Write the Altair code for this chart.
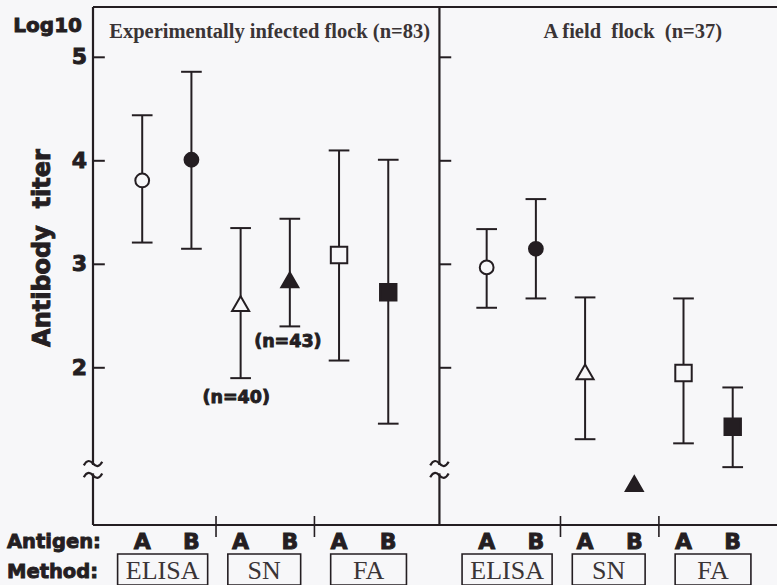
import altair as alt
import pandas as pd

# ---------------- data ----------------
positions = [1, 2, 3, 4, 5, 6, 8, 9, 10, 11, 12, 13]
antigens = ["A", "B", "A", "B", "A", "B", "A", "B", "A", "B", "A", "B"]
methods = ["ELISA", "ELISA", "SN", "SN", "FA", "FA",
           "ELISA", "ELISA", "SN", "SN", "FA", "FA"]
flocks = ["Experimental"] * 6 + ["Field"] * 6
means = [3.81, 4.01, 2.62, 2.85, 3.09, 2.73, 2.97, 3.15, 1.96, 0.88, 1.95, 1.43]
uppers = [4.44, 4.86, 3.35, 3.44, 4.10, 4.01, 3.34, 3.63, 2.68, None, 2.67, 1.81]
lowers = [3.21, 3.15, 1.90, 2.40, 2.07, 1.46, 2.58, 2.67, 1.31, None, 1.27, 1.04]

y_ticks = [2, 3, 4, 5]
panel_starts = [0, 7.04]
NB = "\u00a0"
panel_titles = ["Experimentally infected flock (n=83)",
                "A field" + NB + NB + "flock" + NB + NB + "(n=37)"]
title_x = [3.59, 10.97]
group_seps = [2.5, 4.5, 9.5, 11.5]
method_names = ["ELISA", "SN", "FA"]
method_centers = [1.5, 3.5, 5.5, 8.5, 10.5, 12.5]
method_of_box = ["ELISA", "SN", "FA", "ELISA", "SN", "FA"]
box_lo_off = {"ELISA": -1.0, "SN": -0.76, "FA": -0.67}
box_hi_off = {"ELISA": 0.83, "SN": 0.72, "FA": 0.87}
ann_text = ["(n=40)", "(n=43)"]
ann_x = [2.91, 3.96]
ann_y = [1.71, 2.25]
BREAK = 1.02

# ---------------- style ----------------
DARK = "#241e22"
BG = "#f7f7f9"
W, H = 684, 518
YMIN, YMAX = 0.481, 5.486
XMAX = 13.9
CAP = 0.21
TICK = 0.24
SANS = "DejaVu Sans"
SERIF = "Liberation Serif"
HEAVY = dict(font=SANS, fontWeight="bold", color=DARK, stroke=DARK, strokeWidth=0.9)
TILDE = "M -1 0.2 C -0.65 -0.45 -0.3 -0.35 0 0 C 0.3 0.35 0.65 0.45 1 -0.2"

xs = alt.Scale(domain=[0, XMAX], nice=False, zero=False)
ys = alt.Scale(domain=[YMIN, YMAX], nice=False, zero=False)

def X(f):
    return alt.X(f, type="quantitative", scale=xs, axis=None)

def Y(f):
    return alt.Y(f, type="quantitative", scale=ys, axis=None)

pts = pd.DataFrame({"pos": positions, "antigen": antigens, "method": methods,
                    "flock": flocks, "mean": means, "hi": uppers, "lo": lowers})
err = pts.dropna(subset=["hi", "lo"]).copy()
caps = pd.concat([
    pd.DataFrame({"x1": err["pos"] - CAP, "x2": err["pos"] + CAP, "y": err["hi"]}),
    pd.DataFrame({"x1": err["pos"] - CAP, "x2": err["pos"] + CAP, "y": err["lo"]}),
])

# frame
hlines = alt.Chart(pd.DataFrame({"y": [YMAX, YMIN]})).mark_rule(
    color=DARK, strokeWidth=2.2).encode(x=alt.value(0), x2=alt.value(W), y=Y("y"))
vl = pd.DataFrame({
    "x": [p for p in panel_starts for _ in (0, 1)],
    "y1": [BREAK + 0.04, YMIN] * 2,
    "y2": [YMAX, BREAK - 0.04] * 2,
})
vlines = alt.Chart(vl).mark_rule(color=DARK, strokeWidth=2.2).encode(
    x=X("x"), y=Y("y1"), y2="y2")
tk = pd.DataFrame([{"x1": p, "x2": p + TICK, "y": v} for p in panel_starts for v in y_ticks])
ticks = alt.Chart(tk).mark_rule(color=DARK, strokeWidth=2).encode(
    x=X("x1"), x2="x2", y=Y("y"))
tlabels = alt.Chart(pd.DataFrame({"v": y_ticks, "t": [str(v) for v in y_ticks]})).mark_text(
    align="right", baseline="middle", fontSize=22, **HEAVY).encode(
    x=alt.value(-6), y=Y("v"), text="t:N")
tild = pd.DataFrame([{"x": p, "y": BREAK + d} for p in panel_starts for d in (0.055, -0.06)])
tildes = alt.Chart(tild).mark_point(shape=TILDE, filled=False, size=340, stroke=DARK,
                                    strokeWidth=2.2, opacity=1).encode(x=X("x"), y=Y("y"))
seps = alt.Chart(pd.DataFrame({"x": group_seps})).mark_rule(color=DARK, strokeWidth=1.6).encode(
    x=X("x"), y=alt.value(H - 9), y2=alt.value(H + 12))

# error bars and points
bars = alt.Chart(err).mark_rule(color=DARK, strokeWidth=2).encode(
    x=X("pos"), y=Y("lo"), y2="hi")
capm = alt.Chart(caps).mark_rule(color=DARK, strokeWidth=2).encode(
    x=X("x1"), x2="x2", y=Y("y"))
points = alt.Chart(pts).mark_point(filled=True, stroke=DARK, strokeWidth=2, opacity=1).encode(
    x=X("pos"), y=Y("mean"),
    shape=alt.Shape("method:N", scale=alt.Scale(domain=method_names,
                    range=["circle", "triangle-up", "square"]), legend=None),
    fill=alt.Fill("antigen:N", scale=alt.Scale(domain=["A", "B"], range=[BG, DARK]), legend=None),
    size=alt.Size("method:N", scale=alt.Scale(type="ordinal", domain=method_names,
                  range=[190, 290, 270]), legend=None),
)

# texts
titles = alt.Chart(pd.DataFrame({"x": title_x, "t": panel_titles})).mark_text(
    font=SERIF, fontWeight="bold", fontSize=20.5, color="#3a3436", baseline="middle").encode(
    x=X("x"), y=alt.value(25), text="t:N")
ann = alt.Chart(pd.DataFrame({"x": ann_x, "y": ann_y, "t": ann_text})).mark_text(
    fontSize=17.5, baseline="middle", **HEAVY).encode(
    x=X("x"), y=Y("y"), text="t:N")
ag = alt.Chart(pts).mark_text(fontSize=22, baseline="middle", **HEAVY).encode(
    x=X("pos"), y=alt.value(535), text="antigen:N")
boxes_df = pd.DataFrame({
    "m": method_of_box,
    "c": method_centers,
    "x1": [c + box_lo_off[m] for c, m in zip(method_centers, method_of_box)],
    "x2": [c + box_hi_off[m] for c, m in zip(method_centers, method_of_box)],
})
boxes_df["mid"] = (boxes_df["x1"] + boxes_df["x2"]) / 2
boxes = alt.Chart(boxes_df).mark_rect(fill=BG, stroke=DARK, strokeWidth=1.6).encode(
    x=X("x1"), x2="x2", y=alt.value(547), y2=alt.value(578))
box_txt = alt.Chart(boxes_df).mark_text(font=SERIF, fontSize=26, color="#3a3436",
                                        baseline="middle").encode(
    x=X("mid"), y=alt.value(564), text="m:N")
side = pd.DataFrame({"t": ["Antigen:", "Method:"], "y": [535, 565]})
side_txt = alt.Chart(side).mark_text(fontSize=19.5, align="left", baseline="middle",
                                     **HEAVY).encode(
    x=alt.value(-86), y=alt.Y("y:Q", scale=None), text="t:N")
log_lbl = alt.Chart(pd.DataFrame({"t": ["Log10"]})).mark_text(
    fontSize=20, align="right", baseline="middle", **HEAVY).encode(
    x=alt.value(-11), y=alt.value(19), text="t:N")
ytitle = alt.Chart(pd.DataFrame({"t": ["Antibody" + NB + NB + "titer"]})).mark_text(
    fontSize=24, angle=270, baseline="middle", **HEAVY).encode(
    x=alt.value(-50), y=alt.value(241), text="t:N")

chart = alt.layer(
    hlines, vlines, ticks, tlabels, tildes, seps, bars, capm, points,
    titles, ann, ag, boxes, box_txt, side_txt, log_lbl, ytitle,
).properties(
    width=W, height=H,
    autosize=alt.AutoSizeParams(type="none"),
    padding={"left": 93, "top": 7, "right": 0, "bottom": 60},
    background=BG,
).configure_view(stroke=None)

chart.save("out.html", embed_options={"renderer": "svg", "actions": False})
